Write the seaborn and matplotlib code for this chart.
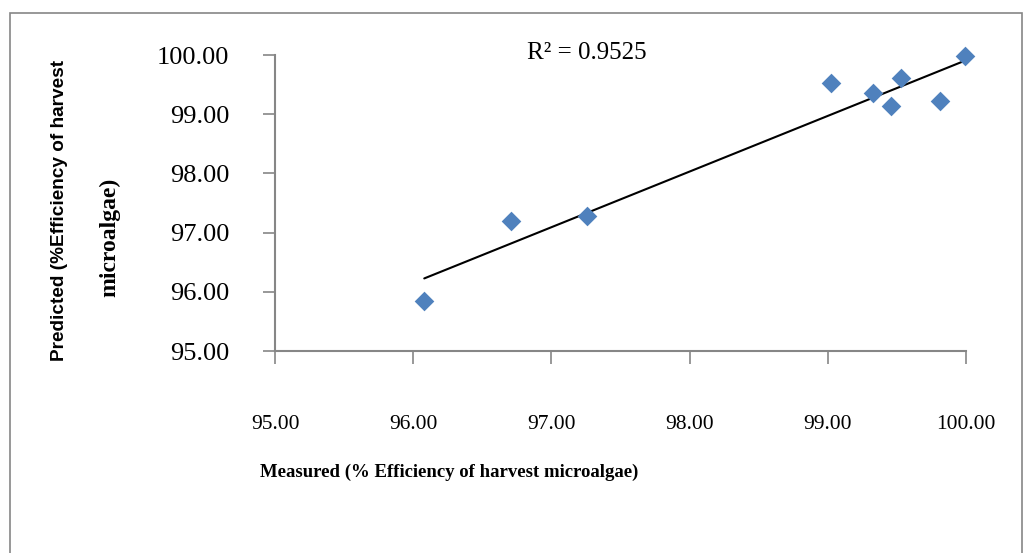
import numpy as np
import pandas as pd
import matplotlib
matplotlib.use("Agg")
import matplotlib.pyplot as plt
import seaborn as sns
from matplotlib.patches import Rectangle

# valores
medido = [96.08, 96.71, 97.26, 99.02, 99.33, 99.53, 99.46, 99.81, 99.99]
previsto = [95.84, 97.20, 97.28, 99.53, 99.36, 99.61, 99.14, 99.22, 99.98]
ticks = [95.0, 96.0, 97.0, 98.0, 99.0, 100.0]
r2_texto = "R² = 0.9525"

df = pd.DataFrame({"medido": medido, "previsto": previsto})

sns.set_style("white")
plt.rcParams['font.family'] = ['Liberation Serif', 'DejaVu Serif']
plt.rcParams['text.color'] = 'black'
plt.rcParams['xtick.labelcolor'] = 'black'
plt.rcParams['ytick.labelcolor'] = 'black'

cinza = '#868686'
azul = '#4F81BD'

fig = plt.figure(figsize=(10.26, 5.53), dpi=100)
ax = fig.add_axes([275/1026, 1 - 351/553, (966-275)/1026, (351-55)/553])

# moldura externa
fig.patches.append(Rectangle((10/1026, -0.1), 1012/1026, 1.1 - 13/553,
                             transform=fig.transFigure, fill=False,
                             edgecolor=cinza, linewidth=1.2))

# linha de tendência (ajuste linear) + pontos
sns.regplot(data=df, x="medido", y="previsto", ax=ax, scatter=False, ci=None,
            truncate=True, line_kws={'color': 'black', 'linewidth': 1.5})
sns.scatterplot(data=df, x="medido", y="previsto", ax=ax, marker='D', s=100,
                color=azul, linewidth=0, zorder=3)

ax.set_xlim(95, 100)
ax.set_ylim(95, 100)
ax.set_xticks(ticks)
ax.set_yticks(ticks)
ax.set_xticklabels([f"{t:.2f}" for t in ticks], fontsize=15.5)
ax.set_yticklabels([f"{t:.2f}" for t in ticks], fontsize=19)
ax.tick_params(axis='y', direction='out', length=9, width=1.2, color=cinza, pad=24, left=True)
ax.tick_params(axis='x', direction='out', length=9, width=1.2, color=cinza, pad=37, bottom=True)

for lado in ['top', 'right']:
    ax.spines[lado].set_visible(False)
for lado in ['left', 'bottom']:
    ax.spines[lado].set_color(cinza)
    ax.spines[lado].set_linewidth(1.5)
for c in ax.collections:
    c.set_clip_on(False)

ax.set_xlabel("")
ax.set_ylabel("")
fig.text(449/1026, 1 - 472/553, "Measured (% Efficiency of harvest microalgae)",
         ha='center', va='center', fontsize=13.5, fontweight='bold')

fig.text(59/1026, 1 - 210/553, "Predicted (%Efficiency of harvest",
         rotation=90, ha='center', va='center', fontsize=13.7, fontweight='bold',
         family=['Liberation Sans', 'DejaVu Sans'])
fig.text(110/1026, 1 - 237/553, "microalgae)",
         rotation=90, ha='center', va='center', fontsize=17, fontweight='bold')

fig.text(527/1026, 1 - 53/553, r2_texto, fontsize=18, va='center', ha='left')

fig.savefig("out.png", dpi=100, facecolor='white')
